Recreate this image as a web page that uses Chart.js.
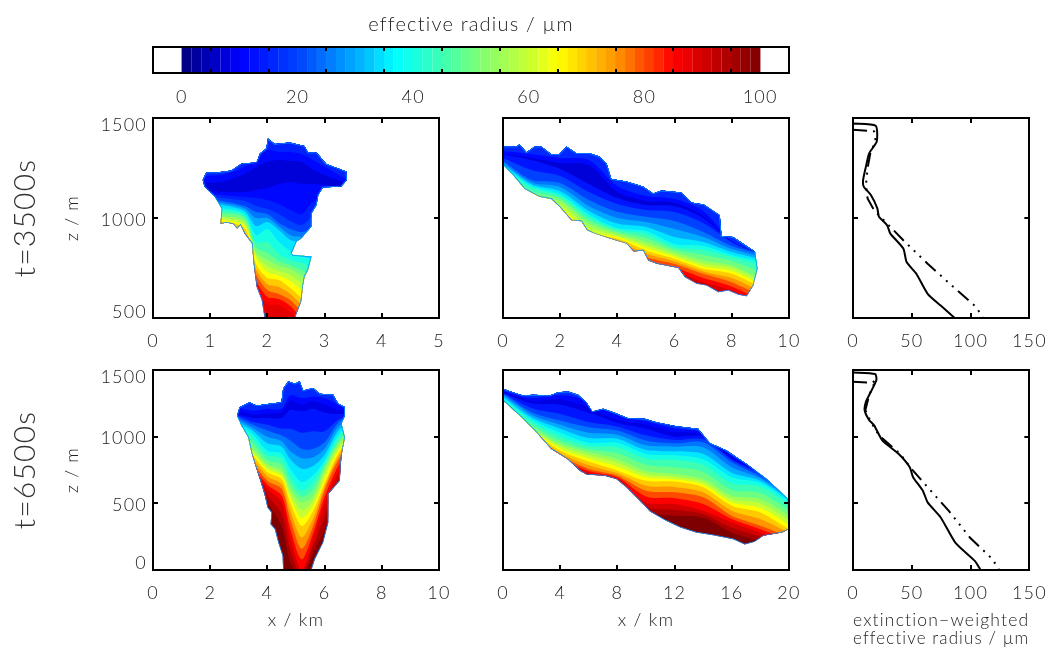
<!DOCTYPE html>
<html lang="en">

<head>
  <meta charset="UTF-8" />
  <title>Effective radius</title>
  <script src="https://cdn.jsdelivr.net/npm/chart.js"></script>
  <style>
    body {
      margin: 0;
      background: #fff;
    }

    canvas {
      position: absolute;
    }
  </style>
</head>

<body>
  <canvas id="cbar"></canvas>
  <canvas id="panelA"></canvas>
  <canvas id="panelB"></canvas>
  <canvas id="panelE"></canvas>
  <canvas id="panelC"></canvas>
  <canvas id="panelD"></canvas>
  <canvas id="panelF"></canvas>

  <script>
    // colour bar
    const radiusBins = [0.8, 2.5, 4.2, 5.8, 7.5, 9.2, 10.8, 12.5, 14.2, 15.8, 17.5, 19.2, 20.8, 22.5, 24.2, 25.8, 27.5, 29.2, 30.8, 32.5,
      34.2, 35.8, 37.5, 39.2, 40.8, 42.5, 44.2, 45.8, 47.5, 49.2, 50.8, 52.5, 54.2, 55.8, 57.5, 59.2, 60.8, 62.5, 64.2, 65.8,
      67.5, 69.2, 70.8, 72.5, 74.2, 75.8, 77.5, 79.2, 80.8, 82.5, 84.2, 85.8, 87.5, 89.2, 90.8, 92.5, 94.2, 95.8, 97.5, 99.2];
    const cbarTicks = [0, 10, 20, 30, 40, 50, 60, 70, 80, 90, 100];
    const cmapR = [0, 10, 20, 30, 37, 45, 52, 60, 65, 75, 85, 100];
    const cmapRGB = [[0, 0, 127], [0, 0, 255], [0, 65, 255], [0, 170, 255], [0, 255, 255], [60, 255, 180], [130, 255, 110], [200, 255, 50], [255, 255, 0], [255, 150, 0], [255, 0, 0], [127, 0, 0]];

    // t=3500s, x-z slice
    const stationsA = [0.8, 1.2, 1.6, 1.8, 2.0, 2.2, 2.4, 2.6, 2.8, 3.4];
    const radiiA = [15, 11, 7, 11, 15, 20, 25, 30, 35, 40, 45, 50, 55, 60, 65, 70, 75, 80, 85];
    const linesA = [
      [1210, 1215, 1255, 1290, 1340, 1330, 1330, 1320, 1290, 1190],
      [1175, 1180, 1220, 1255, 1280, 1290, 1285, 1280, 1240, 1170],
      [1140, 1130, 1130, 1140, 1150, 1170, 1180, 1170, 1170, 1150],
      [1125, 1115, 1105, 1100, 1090, 1070, 1040, 1020, 1080, 1130],
      [1110, 1100, 1085, 1060, 1045, 1020, 985, 965, 1010, 1110],
      [1095, 1085, 1060, 1030, 1020, 975, 945, 930, 950, 1100],
      [1085, 1075, 1048, 1000, 1000, 958, 915, 905, 910, 1075],
      [1075, 1065, 1035, 960, 980, 940, 890, 880, 880, 1050],
      [1065, 1050, 1022, 915, 945, 880, 835, 810, 800, 1020],
      [1055, 1040, 1012, 880, 880, 820, 790, 775, 760, 980],
      [1040, 1025, 1000, 855, 825, 785, 765, 740, 720, 940],
      [1025, 1010, 985, 830, 790, 760, 745, 710, 680, 900],
      [1010, 1000, 972, 815, 760, 735, 715, 675, 640, 870],
      [995, 990, 960, 800, 730, 712, 685, 640, 600, 840],
      [980, 980, 950, 770, 700, 690, 650, 600, 560, 800],
      [960, 960, 930, 745, 670, 655, 620, 565, 520, 750],
      [930, 930, 900, 720, 640, 620, 590, 530, 480, 700],
      [900, 900, 870, 690, 605, 595, 560, 500, 460, 650],
      [870, 870, 840, 650, 570, 565, 530, 470, 440, 600]
    ];
    const baseA = 88;
    const outlineXA = [1.95, 1.90, 1.81, 1.76, 1.73, 1.60, 1.53, 1.47, 1.40, 1.28, 1.18, 1.20, 1.08, 0.90, 0.87, 0.93, 1.11, 1.37, 1.55, 1.81, 1.87, 1.98, 2.01, 2.13, 2.39, 2.65, 2.71, 2.86, 3.03, 3.24, 3.38, 3.39, 3.29, 2.97, 2.89, 2.86, 2.77, 2.77, 2.59, 2.51, 2.42, 2.45, 2.77, 2.71, 2.65, 2.62, 2.59, 2.48];
    const outlineZA = [500, 590, 657, 773, 873, 923, 965, 948, 970, 977, 970, 1048, 1107, 1157, 1190, 1227, 1228, 1237, 1273, 1278, 1323, 1348, 1397, 1370, 1377, 1360, 1327, 1327, 1270, 1248, 1232, 1190, 1157, 1153, 1115, 1065, 1023, 957, 898, 882, 823, 815, 807, 740, 707, 657, 582, 500];

    // t=3500s, along-slope slice
    const stationsB = [0, 1, 2, 3, 4, 5, 6, 7, 8, 9];
    const radiiB = [16, 11, 7, 13, 20, 25, 30, 35, 40, 45, 50, 55, 60, 65, 70, 75, 80, 85];
    const linesB = [
      [1335, 1320, 1300, 1290, 1160, 1110, 1095, 1035, 885, 820],
      [1320, 1300, 1275, 1265, 1130, 1085, 1075, 1010, 880, 820],
      [1318, 1290, 1245, 1170, 1100, 1065, 1060, 1000, 880, 820],
      [1300, 1240, 1210, 1130, 1070, 1040, 1030, 975, 880, 820],
      [1285, 1190, 1175, 1090, 1031, 1006, 985, 930, 860, 820],
      [1275, 1178, 1155, 1060, 1000, 980, 945, 905, 845, 808],
      [1267, 1168, 1135, 1035, 972, 955, 905, 880, 830, 795],
      [1260, 1160, 1120, 1018, 950, 935, 870, 860, 815, 782],
      [1252, 1150, 1110, 1005, 942, 920, 855, 840, 805, 765],
      [1243, 1135, 1098, 990, 932, 900, 842, 815, 785, 730],
      [1235, 1123, 1085, 972, 922, 880, 830, 788, 763, 696],
      [1228, 1117, 1068, 955, 913, 866, 816, 772, 750, 682],
      [1221, 1112, 1052, 938, 905, 852, 806, 758, 735, 668],
      [1215, 1106, 1039, 922, 897, 838, 796, 746, 721, 654],
      [1205, 1095, 1026, 910, 885, 822, 782, 733, 700, 633],
      [1195, 1085, 1014, 900, 872, 805, 770, 721, 679, 612],
      [1182, 1072, 1000, 885, 858, 788, 752, 700, 658, 590],
      [1170, 1060, 985, 870, 845, 770, 735, 679, 637, 570]
    ];
    const baseB = 90;
    const outlineXB = [0, 0.47, 0.58, 0.82, 1.11, 1.34, 1.69, 1.96, 2.22, 2.57, 3.03, 3.38, 3.62, 3.79, 4.32, 4.90, 5.25, 5.54, 6.24, 6.59, 7.02, 7.58, 7.64, 8.05, 8.81, 8.90, 8.75, 8.52, 8.23, 7.88, 7.53, 7.12, 6.77, 6.36, 6.13, 5.78, 5.37, 5.08, 4.90, 4.57, 4.32, 3.85, 3.21, 2.94, 2.74, 2.39, 1.98, 1.69, 1.28, 0.76, 0.35, 0];
    const outlineZB = [1358, 1358, 1369, 1329, 1358, 1358, 1319, 1319, 1358, 1324, 1324, 1307, 1274, 1195, 1182, 1157, 1123, 1137, 1128, 1078, 1068, 1014, 910, 905, 833, 746, 662, 609, 616, 637, 629, 662, 671, 704, 750, 760, 771, 788, 838, 833, 872, 892, 922, 939, 984, 989, 1056, 1095, 1106, 1145, 1215, 1266];

    // t=6500s, x-z slice
    const stationsC = [2.9, 3.5, 4, 4.5, 4.8, 5.2, 5.6, 6, 6.5, 7];
    const radiiC = [16, 11, 8, 13, 20, 25, 30, 35, 40, 45, 50, 55, 60, 65, 70, 75, 80, 85, 90, 95];
    const linesC = [
      [1220, 1195, 1210, 1210, 1310, 1290, 1300, 1290, 1240, 1220],
      [1200, 1165, 1175, 1185, 1270, 1240, 1265, 1240, 1200, 1190],
      [1170, 1140, 1140, 1140, 1200, 1190, 1210, 1180, 1170, 1170],
      [1160, 1110, 1090, 1060, 1060, 1030, 1040, 1040, 1130, 1160],
      [1150, 1088, 1046, 1008, 971, 908, 908, 958, 1109, 1150],
      [1135, 1064, 1000, 966, 890, 838, 845, 910, 1080, 1135],
      [1120, 1040, 950, 925, 830, 760, 780, 865, 1050, 1120],
      [1105, 1016, 895, 872, 760, 660, 710, 822, 1020, 1105],
      [1090, 985, 860, 838, 700, 595, 660, 796, 995, 1090],
      [1070, 945, 825, 790, 650, 550, 605, 777, 970, 1070],
      [1050, 908, 795, 745, 607, 507, 557, 758, 946, 1050],
      [1033, 890, 775, 724, 575, 450, 520, 722, 925, 1033],
      [1017, 875, 754, 703, 540, 390, 482, 686, 904, 1017],
      [1000, 858, 733, 682, 507, 330, 444, 650, 883, 1000],
      [975, 830, 702, 645, 445, 245, 388, 625, 858, 975],
      [950, 800, 670, 607, 381, 160, 331, 600, 833, 950],
      [925, 775, 640, 557, 310, 80, 280, 550, 790, 925],
      [900, 750, 608, 507, 243, 0, 231, 500, 745, 900],
      [875, 725, 558, 420, 150, -40, 180, 400, 698, 875],
      [850, 700, 507, 330, 60, -50, 131, 300, 650, 850]
    ];
    const baseC = 100;
    const outlineXC = [4.55, 4.53, 4.38, 4.26, 4.11, 4.14, 4.00, 3.91, 3.79, 3.62, 3.44, 3.33, 3.09, 2.94, 3.03, 3.38, 3.62, 4.08, 4.49, 4.55, 4.73, 4.96, 5.13, 5.25, 5.60, 5.83, 6.30, 6.48, 6.71, 6.71, 6.59, 6.71, 6.59, 6.53, 6.13, 6.13, 5.95, 5.66, 5.54];
    const outlineZC = [0, 106, 206, 306, 344, 432, 469, 557, 645, 758, 883, 996, 1084, 1159, 1222, 1259, 1234, 1247, 1259, 1360, 1415, 1397, 1415, 1347, 1365, 1322, 1314, 1247, 1222, 1159, 1096, 996, 858, 670, 570, 356, 206, 80, 0];

    // t=6500s, along-slope slice
    const stationsD = [0, 2, 4, 6, 8, 10, 12, 14, 16, 18, 20];
    const radiiD = [16, 11, 8, 13, 20, 25, 30, 35, 40, 45, 50, 55, 60, 65, 70, 75, 80, 85, 90, 95];
    const linesD = [
      [1340, 1290, 1310, 1270, 1160, 1115, 1060, 1030, 860, 740, 560],
      [1335, 1270, 1280, 1220, 1125, 1090, 1035, 1015, 845, 730, 560],
      [1330, 1250, 1240, 1180, 1105, 1060, 1000, 1000, 835, 725, 560],
      [1328, 1215, 1170, 1110, 1075, 1010, 975, 980, 825, 715, 560],
      [1322, 1184, 1121, 1071, 1046, 971, 950, 958, 808, 700, 560],
      [1312, 1165, 1090, 1030, 1015, 935, 925, 920, 770, 688, 545],
      [1300, 1145, 1060, 990, 985, 900, 890, 870, 730, 670, 530],
      [1288, 1128, 1030, 955, 955, 870, 860, 830, 695, 652, 515],
      [1280, 1110, 1000, 930, 920, 835, 825, 790, 650, 625, 495],
      [1272, 1090, 970, 905, 875, 790, 770, 735, 600, 578, 450],
      [1265, 1071, 946, 883, 833, 745, 720, 682, 557, 532, 407],
      [1260, 1062, 930, 860, 805, 720, 700, 660, 532, 498, 372],
      [1255, 1054, 912, 836, 775, 695, 680, 640, 506, 465, 340],
      [1250, 1046, 896, 813, 745, 670, 663, 620, 482, 432, 306],
      [1240, 1028, 877, 785, 725, 632, 623, 583, 445, 382, 278],
      [1230, 1010, 858, 758, 707, 595, 583, 545, 407, 332, 250],
      [1220, 995, 844, 742, 695, 551, 539, 495, 382, 306, 225],
      [1210, 980, 830, 727, 682, 507, 495, 444, 357, 280, 200],
      [1200, 965, 815, 713, 666, 475, 451, 419, 318, 250, 175],
      [1190, 950, 800, 700, 650, 444, 407, 394, 280, 220, 150]
    ];
    const baseD = 100;
    const outlineXD = [0, 0.7, 1.4, 2.1, 3.27, 3.85, 4.55, 5.25, 5.83, 6.25, 7, 7.82, 8.75, 9.92, 10.73, 12.13, 13.65, 14.47, 15.64, 17.04, 18.44, 19.95, 20, 19.5, 18.2, 17.6, 16.9, 16.1, 14.7, 13.5, 12.4, 11.4, 10.3, 9.57, 8.63, 7.93, 7.12, 5.83, 5.37, 4.55, 3.38, 2.33, 1.17, 0];
    const outlineZD = [1360, 1334, 1309, 1314, 1309, 1334, 1339, 1314, 1259, 1189, 1209, 1179, 1139, 1134, 1109, 1079, 1059, 953, 896, 795, 682, 532, 306, 281, 256, 211, 191, 231, 261, 281, 319, 369, 437, 519, 620, 682, 707, 717, 745, 828, 908, 1033, 1159, 1272];

    // profiles
    const solidRE = [0, 19.3, 20.2, 13.8, 11, 8.6, 9.1, 15.2, 20.7, 22.1, 29, 31.8, 42.8, 45.6, 53.9, 63.5, 74.6, 86.5];
    const solidZE = [1472, 1461, 1383, 1324, 1257, 1190, 1157, 1115, 1048, 1006, 964, 922, 847, 780, 721, 621, 562, 500];
    const dashRE = [0, 18, 19.3, 15, 12.4, 11, 12.4, 18, 29, 42.8, 63.5, 85.6, 105, 110.5];
    const dashZE = [1441, 1433, 1383, 1332, 1249, 1165, 1098, 1039, 972, 889, 771, 654, 554, 500];
    const solidRF = [0, 18.8, 19.9, 15.2, 11, 9.9, 13.8, 18, 24.9, 38.7, 48.3, 51.1, 59.4, 63.5, 74.6, 87, 103.6, 108.6];
    const solidZF = [1482, 1470, 1425, 1337, 1261, 1198, 1123, 1085, 972, 872, 771, 696, 595, 507, 394, 206, 68, 0];
    const dashRF = [0, 16.6, 19.3, 13.8, 10.5, 15.2, 22.1, 40, 49.7, 63.5, 81.5, 99.4, 118.8, 124.3];
    const dashZF = [1412, 1405, 1425, 1312, 1198, 1110, 1010, 872, 759, 620, 444, 244, 80, 0];

    const FONT = 'Lato';
    const INK = '#222';
    const tickFont = { family: FONT, size: 18, weight: '300' };

    function colorFor(r) {
      let i = 0;
      while (i < cmapR.length - 2 && r > cmapR[i + 1]) i++;
      const f = Math.min(1, Math.max(0, (r - cmapR[i]) / (cmapR[i + 1] - cmapR[i])));
      const c = cmapRGB[i].map((v, k) => Math.round(v + f * (cmapRGB[i + 1][k] - v)));
      return `rgb(${c[0]},${c[1]},${c[2]})`;
    }

    function fixedSize(size, key) {
      return s => { s[key] = size; };
    }

    function frameAxis(position, min, max, ticks, size, tickLength) {
      const horizontal = position === 'bottom' || position === 'top';
      return {
        type: 'linear',
        axis: horizontal ? 'x' : 'y',
        position,
        min,
        max,
        afterBuildTicks: s => { s.ticks = ticks.map(v => ({ value: v })); },
        afterFit: fixedSize(size, horizontal ? 'height' : 'width'),
        ticks: { display: false, autoSkip: false },
        border: { color: '#000', width: 2, z: 1 },
        grid: { color: '#000', lineWidth: 2, tickLength, drawOnChartArea: false, z: 1 }
      };
    }

    // hard Hershey-looking text spacing and IDL style y labels, nudged off the tick
    function panelPlugin(yLabels, yOffsets, outlineX, outlineZ) {
      return {
        id: 'panel',
        beforeDraw(chart) {
          chart.ctx.letterSpacing = '1.2px';
        },
        beforeDatasetsDraw(chart) {
          if (!outlineX) return;
          const { ctx, scales } = chart;
          ctx.save();
          ctx.beginPath();
          outlineX.forEach((x, i) => {
            ctx.lineTo(scales.x.getPixelForValue(x), scales.y.getPixelForValue(outlineZ[i]));
          });
          ctx.closePath();
          ctx.clip();
        },
        afterDatasetsDraw(chart) {
          if (outlineX) chart.ctx.restore();
        },
        afterDraw(chart) {
          if (!yLabels) return;
          const { ctx, scales, chartArea } = chart;
          ctx.save();
          ctx.font = `300 ${tickFont.size}px ${FONT}`;
          ctx.fillStyle = INK;
          ctx.textAlign = 'right';
          ctx.textBaseline = 'middle';
          yLabels.forEach((v, i) => {
            ctx.fillText(String(v), chartArea.left - 6, scales.y.getPixelForValue(v) + yOffsets[i]);
          });
          ctx.restore();
        }
      };
    }

    function cloudDatasets(stations, lines, radii, base, yMax, outlineX, outlineZ) {
      const sets = [];
      sets.push({
        data: outlineX.map((x, i) => ({ x, y: outlineZ[i] })).concat([{ x: outlineX[0], y: outlineZ[0] }]),
        borderColor: '#0a90ff',
        borderWidth: 1.5,
        pointRadius: 0,
        fill: false
      });
      lines.forEach((line, i) => {
        sets.push({
          data: stations.map((x, k) => ({ x, y: line[k] })),
          backgroundColor: colorFor(radii[i]),
          borderWidth: 0,
          pointRadius: 0,
          tension: 0.3,
          fill: 'end'
        });
      });
      sets.push({
        data: stations.map(x => ({ x, y: yMax })),
        backgroundColor: colorFor(base),
        borderWidth: 0,
        pointRadius: 0,
        fill: 'start'
      });
      return sets;
    }

    function profileDatasets(solidR, solidZ, dashR, dashZ) {
      return [
        {
          data: solidR.map((x, i) => ({ x, y: solidZ[i] })),
          borderColor: '#000',
          borderWidth: 2,
          pointRadius: 0,
          tension: 0.2,
          fill: false
        },
        {
          data: dashR.map((x, i) => ({ x, y: dashZ[i] })),
          borderColor: '#000',
          borderWidth: 2,
          borderDash: [14, 6, 2, 6, 2, 6, 2, 6],
          pointRadius: 0,
          fill: false
        }
      ];
    }

    function makePanel(id, box, cfg) {
      const canvas = document.getElementById(id);
      canvas.width = box.w;
      canvas.height = box.h;
      canvas.style.left = box.x + 'px';
      canvas.style.top = box.y + 'px';

      const x = frameAxis('bottom', cfg.xMin, cfg.xMax, cfg.xTicks, box.bottom, -5);
      x.ticks = { display: true, autoSkip: false, maxRotation: 0, font: tickFont, color: INK, padding: box.labelPad };
      if (cfg.xTitle) {
        x.title = { display: true, text: cfg.xTitle, font: { family: FONT, size: 18, weight: '300', lineHeight: 1 }, color: INK, padding: { top: 0, bottom: cfg.xTitlePad } };
      }

      const scales = {
        x,
        x2: frameAxis('top', cfg.xMin, cfg.xMax, cfg.xTicks, box.top, -5),
        y: frameAxis('left', cfg.yMin, cfg.yMax, cfg.yTicks, box.left - (cfg.tLabel ? 50 : 0), -5),
        y2: frameAxis('right', cfg.yMin, cfg.yMax, cfg.yTicks, box.right, -5)
      };

      if (cfg.tLabel) {
        scales.y.title = { display: true, text: 'z / m', font: { family: FONT, size: 18, weight: '300', lineHeight: 1 }, color: INK, padding: { top: 13, bottom: 0 } };
        scales.t = {
          type: 'linear',
          axis: 'y',
          position: 'left',
          weight: 5,
          min: 0,
          max: 1,
          afterFit: fixedSize(50, 'width'),
          ticks: { display: false },
          grid: { display: false },
          border: { display: false },
          title: { display: true, text: cfg.tLabel, font: { family: FONT, size: 30, weight: '300', lineHeight: 1 }, color: '#333', padding: { top: 10, bottom: 0 } }
        };
      }

      return new Chart(canvas, {
        type: 'line',
        data: { datasets: cfg.datasets },
        options: {
          responsive: false,
          animation: false,
          devicePixelRatio: 1,
          layout: { padding: 0 },
          plugins: { legend: { display: false }, tooltip: { enabled: false } },
          scales
        },
        plugins: [panelPlugin(cfg.yLabels, cfg.yOffsets, cfg.outlineX, cfg.outlineZ)]
      });
    }

    // colour bar
    (function () {
      const canvas = document.getElementById('cbar');
      canvas.width = 740;
      canvas.height = 105;
      canvas.style.left = '100px';
      canvas.style.top = '0px';

      const x = frameAxis('bottom', 0, 100, cbarTicks, 32, -4);
      x.ticks = {
        display: true, autoSkip: false, maxRotation: 0, font: tickFont, color: INK, padding: 17,
        callback: v => (v % 20 === 0 ? String(v) : '')
      };
      const x2 = frameAxis('top', 0, 100, cbarTicks, 47, -4);
      x2.title = { display: true, text: 'effective radius / µm', font: { family: FONT, size: 20, weight: '300', lineHeight: 1 }, color: INK, padding: { top: 15, bottom: 0 } };

      new Chart(canvas, {
        type: 'bar',
        data: {
          datasets: [{
            data: radiusBins.map(r => ({ x: r, y: 1 })),
            backgroundColor: radiusBins.map(colorFor),
            barPercentage: 1,
            categoryPercentage: 1
          }]
        },
        options: {
          responsive: false,
          animation: false,
          devicePixelRatio: 1,
          layout: { padding: 0 },
          plugins: { legend: { display: false }, tooltip: { enabled: false } },
          scales: {
            x,
            x2,
            y: Object.assign(frameAxis('left', 0, 1, [], 53, -4), {}),
            y2: frameAxis('right', 0, 1, [], 51, -4)
          }
        },
        plugins: [panelPlugin()]
      });
    })();

    const row1 = { top: 13, bottom: 37, labelPad: 17 };
    const row2 = { top: 15, bottom: 78, labelPad: 17 };

    makePanel('panelA', { x: 0, y: 105, w: 470, h: 250, left: 153, right: 31, ...row1 }, {
      xMin: 0, xMax: 5, xTicks: [0, 1, 2, 3, 4, 5], yMin: 500, yMax: 1500, yTicks: [500, 1000, 1500],
      yLabels: [1500, 1000, 500], yOffsets: [7, 2, -6], tLabel: 't=3500s',
      outlineX: outlineXA, outlineZ: outlineZA,
      datasets: cloudDatasets(stationsA, linesA, radiiA, baseA, 1500, outlineXA, outlineZA)
    });

    makePanel('panelB', { x: 470, y: 105, w: 360, h: 250, left: 33, right: 41, ...row1 }, {
      xMin: 0, xMax: 10, xTicks: [0, 2, 4, 6, 8, 10], yMin: 500, yMax: 1500, yTicks: [500, 1000, 1500],
      outlineX: outlineXB, outlineZ: outlineZB,
      datasets: cloudDatasets(stationsB, linesB, radiiB, baseB, 1500, outlineXB, outlineZB)
    });

    makePanel('panelE', { x: 830, y: 105, w: 232, h: 250, left: 23, right: 28, ...row1 }, {
      xMin: 0, xMax: 150, xTicks: [0, 50, 100, 150], yMin: 500, yMax: 1500, yTicks: [500, 1000, 1500],
      datasets: profileDatasets(solidRE, solidZE, dashRE, dashZE)
    });

    makePanel('panelC', { x: 0, y: 355, w: 470, h: 293, left: 153, right: 31, ...row2 }, {
      xMin: 0, xMax: 10, xTicks: [0, 2, 4, 6, 8, 10], yMin: 0, yMax: 1500, yTicks: [0, 500, 1000, 1500],
      yLabels: [1500, 1000, 500, 0], yOffsets: [7, 2, 2, -7], tLabel: 't=6500s', xTitle: 'x / km', xTitlePad: 19,
      outlineX: outlineXC, outlineZ: outlineZC,
      datasets: cloudDatasets(stationsC, linesC, radiiC, baseC, 1500, outlineXC, outlineZC)
    });

    makePanel('panelD', { x: 470, y: 355, w: 360, h: 293, left: 33, right: 41, ...row2 }, {
      xMin: 0, xMax: 20, xTicks: [0, 4, 8, 12, 16, 20], yMin: 0, yMax: 1500, yTicks: [0, 500, 1000, 1500],
      xTitle: 'x / km', xTitlePad: 19,
      outlineX: outlineXD, outlineZ: outlineZD,
      datasets: cloudDatasets(stationsD, linesD, radiiD, baseD, 1500, outlineXD, outlineZD)
    });

    makePanel('panelF', { x: 830, y: 355, w: 232, h: 293, left: 23, right: 28, ...row2 }, {
      xMin: 0, xMax: 150, xTicks: [0, 50, 100, 150], yMin: 0, yMax: 1500, yTicks: [0, 500, 1000, 1500],
      xTitle: ['extinction−weighted', 'effective radius / µm'], xTitlePad: 1,
      datasets: profileDatasets(solidRF, solidZF, dashRF, dashZF)
    });
  </script>
</body>

</html>
